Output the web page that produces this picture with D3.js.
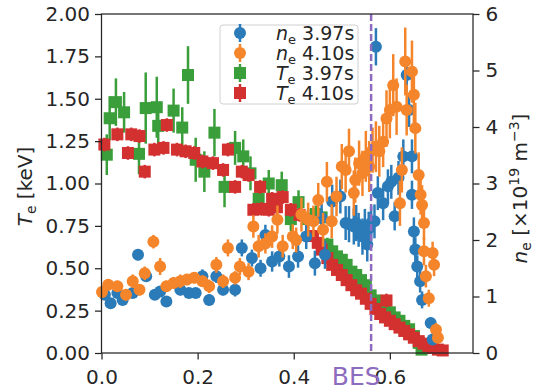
<!DOCTYPE html>
<html>
<head>
<meta charset="utf-8">
<script src="https://cdn.jsdelivr.net/npm/d3@7"></script>
<style>
  body { margin: 0; background: #fff; }
  svg text { font-family: "DejaVu Sans", sans-serif; fill: #262626; }
</style>
</head>
<body>
<div id="chart"></div>
<script>
// Te 3.97s (green squares)
const te397R = [0.011,0.017,0.030,0.047,0.078,0.092,0.115,0.118,0.150,0.168,0.180,0.196,0.214,0.235,0.256,0.278,0.295,0.310,0.327,0.348,0.375,0.394,0.410,0.430,0.446,0.458,0.470,0.480,0.490,0.500,0.510,0.520,0.530,0.540,0.550,0.560,0.570,0.580,0.590,0.600,0.610,0.620,0.630,0.640,0.650,0.660,0.666];
const te397 = [1.17,1.385,1.48,1.42,1.175,1.445,1.45,1.34,1.43,1.33,1.64,1.14,1.07,1.30,0.98,1.21,1.16,1.06,0.91,1.00,0.99,0.79,0.89,0.79,0.82,0.80,0.64,0.60,0.57,0.55,0.52,0.48,0.46,0.43,0.40,0.34,0.31,0.29,0.27,0.24,0.21,0.19,0.16,0.14,0.10,0.06,0.02];
const te397Err = [0.12,0.13,0.14,0.12,0.12,0.21,0.18,0.14,0.13,0.12,0.17,0.13,0.12,0.14,0.12,0.10,0.10,0.10,0.09,0.08,0.08,0.07,0.07,0.06,0.05,0.05,0.04,0.03,0.03,0.03,0.03,0.03,0.03,0.03,0.03,0.03,0.02,0.02,0.02,0.02,0.02,0.02,0.02,0.02,0.02,0.02,0.02];

// Te 4.10s (red squares)
const te410R = [0.006,0.033,0.055,0.062,0.079,0.090,0.110,0.129,0.136,0.157,0.175,0.193,0.210,0.232,0.253,0.263,0.278,0.292,0.306,0.316,0.333,0.330,0.348,0.355,0.365,0.377,0.394,0.412,0.440,0.450,0.458,0.470,0.480,0.490,0.500,0.510,0.520,0.530,0.540,0.550,0.560,0.570,0.580,0.590,0.593,0.600,0.610,0.620,0.630,0.640,0.650,0.660,0.670,0.680,0.690,0.700,0.710];
const te410 = [1.23,1.29,1.18,1.29,1.28,1.07,1.20,1.21,1.345,1.20,1.19,1.18,1.13,1.12,1.08,1.20,0.98,1.07,1.05,0.845,0.85,0.98,0.845,0.91,0.86,0.92,0.845,0.815,0.69,0.65,0.61,0.56,0.52,0.49,0.46,0.43,0.40,0.37,0.35,0.32,0.29,0.26,0.23,0.21,0.31,0.19,0.17,0.15,0.13,0.11,0.09,0.07,0.055,0.04,0.03,0.02,0.015];
const te410Err = [0.04,0.04,0.04,0.04,0.04,0.04,0.04,0.04,0.04,0.04,0.04,0.04,0.04,0.04,0.04,0.04,0.04,0.04,0.04,0.04,0.04,0.04,0.04,0.04,0.04,0.04,0.04,0.04,0.03,0.03,0.03,0.03,0.03,0.03,0.03,0.03,0.03,0.03,0.03,0.03,0.03,0.03,0.03,0.03,0.04,0.02,0.02,0.02,0.02,0.02,0.02,0.02,0.02,0.02,0.02,0.02,0.02];

// ne 3.97s (blue circles)
const ne397R = [0.007,0.019,0.033,0.044,0.065,0.076,0.093,0.111,0.122,0.135,0.164,0.182,0.196,0.210,0.224,0.239,0.253,0.278,0.292,0.313,0.331,0.341,0.355,0.370,0.390,0.409,0.426,0.444,0.458,0.465,0.480,0.497,0.508,0.515,0.525,0.530,0.535,0.543,0.548,0.553,0.556,0.561,0.568,0.571,0.575,0.586,0.596,0.603,0.610,0.618,0.628,0.635,0.640,0.646,0.646,0.650,0.653,0.657,0.663,0.667,0.685,0.689];
const ne397 = [1.03,0.88,1.06,0.94,1.06,1.74,1.36,1.03,1.09,0.91,1.12,1.06,1.06,1.36,0.94,1.36,1.12,1.12,1.86,1.68,1.50,2.09,1.62,1.71,1.53,1.71,2.06,1.59,2.39,1.74,2.68,2.77,2.30,2.28,2.24,2.30,2.18,2.06,2.25,1.92,2.20,2.30,2.33,5.42,2.83,2.65,2.95,3.03,2.42,3.10,3.48,4.92,4.30,3.48,2.80,2.15,1.83,1.53,1.27,0.94,0.53,0.24];
const ne397Err = [0.08,0.08,0.08,0.08,0.08,0.10,0.10,0.08,0.08,0.08,0.10,0.08,0.08,0.12,0.10,0.12,0.10,0.12,0.15,0.15,0.15,0.18,0.18,0.18,0.20,0.20,0.22,0.22,0.25,0.25,0.30,0.30,0.30,0.32,0.32,0.32,0.30,0.32,0.30,0.30,0.30,0.30,0.30,0.33,0.30,0.30,0.30,0.30,0.25,0.30,0.30,0.30,0.30,0.30,0.25,0.25,0.22,0.20,0.20,0.15,0.10,0.10];

// ne 4.10s (orange circles)
const ne410R = [0.001,0.014,0.033,0.051,0.065,0.079,0.090,0.108,0.122,0.135,0.150,0.164,0.178,0.193,0.210,0.224,0.239,0.253,0.263,0.278,0.288,0.306,0.316,0.327,0.341,0.355,0.366,0.377,0.398,0.405,0.416,0.430,0.441,0.451,0.461,0.469,0.479,0.489,0.500,0.508,0.515,0.525,0.528,0.536,0.543,0.550,0.557,0.564,0.571,0.578,0.586,0.593,0.600,0.607,0.614,0.621,0.625,0.632,0.635,0.646,0.650,0.653,0.660,0.664,0.667,0.671,0.671,0.675,0.681,0.689,0.692,0.696,0.700];
const ne410 = [1.08,1.21,1.18,1.03,1.27,1.12,1.41,1.97,1.53,1.18,1.24,1.27,1.30,1.33,1.27,1.18,1.56,1.27,1.86,1.33,1.53,1.44,2.24,1.89,1.94,2.06,2.36,1.89,2.06,2.00,2.45,2.36,2.33,2.71,2.18,3.03,2.33,2.77,3.30,3.24,3.57,2.83,3.06,3.36,3.18,3.48,3.30,3.59,3.65,3.57,3.74,4.15,4.30,4.74,4.36,2.65,3.24,5.16,4.30,4.98,4.57,3.98,3.15,2.80,2.62,2.30,1.80,1.36,0.97,1.77,1.56,0.41,0.27];
const ne410Err = [0.10,0.10,0.10,0.10,0.12,0.10,0.12,0.12,0.15,0.10,0.10,0.12,0.10,0.10,0.10,0.12,0.14,0.12,0.15,0.12,0.15,0.15,0.20,0.20,0.18,0.20,0.25,0.20,0.22,0.22,0.30,0.30,0.28,0.30,0.30,0.35,0.30,0.35,0.40,0.40,0.40,0.40,0.40,0.40,0.40,0.45,0.45,0.40,0.45,0.45,0.45,0.50,0.50,0.55,0.50,0.40,0.40,0.60,0.45,0.55,0.50,0.45,0.40,0.35,0.35,0.30,0.25,0.20,0.15,0.20,0.20,0.12,0.10];

const xTicks = [0, 0.2, 0.4, 0.6];
const teTicks = [0, 0.25, 0.5, 0.75, 1.0, 1.25, 1.5, 1.75, 2.0];
const neTicks = [0, 1, 2, 3, 4, 5, 6];
const besPos = 0.561;

const W = 534, H = 391;
const m = { left: 101.5, right: 473, top: 14, bottom: 353 };
const col = { blue: "#2b7bb9", orange: "#f5852b", green: "#3a9e3a", red: "#d33030", purple: "#8d6cbf" };

const svg = d3.select("#chart").append("svg").attr("width", W).attr("height", H);

const x = d3.scaleLinear().domain([0, 0.773]).range([m.left, m.right]);
const yT = d3.scaleLinear().domain([0, 2]).range([m.bottom, m.top]);
const yN = d3.scaleLinear().domain([0, 6]).range([m.bottom, m.top]);

const MS = 12;

function drawSeries(rs, vs, es, y, color, shape) {
  const pts = rs.map((r, i) => ({ r: r, v: vs[i], e: es[i] }));
  const g = svg.append("g");
  g.selectAll("line").data(pts).enter().append("line")
    .attr("x1", d => x(d.r)).attr("x2", d => x(d.r))
    .attr("y1", d => y(d.v - d.e)).attr("y2", d => y(d.v + d.e))
    .attr("stroke", color).attr("stroke-width", 2.5);
  if (shape === "s") {
    g.selectAll("rect").data(pts).enter().append("rect")
      .attr("x", d => x(d.r) - MS / 2).attr("y", d => y(d.v) - MS / 2)
      .attr("width", MS).attr("height", MS).attr("fill", color);
  } else {
    g.selectAll("circle").data(pts).enter().append("circle")
      .attr("cx", d => x(d.r)).attr("cy", d => y(d.v))
      .attr("r", MS / 2).attr("fill", color);
  }
}

drawSeries(te397R, te397, te397Err, yT, col.green, "s");
drawSeries(te410R, te410, te410Err, yT, col.red, "s");
drawSeries(ne397R, ne397, ne397Err, yN, col.blue, "o");
drawSeries(ne410R, ne410, ne410Err, yN, col.orange, "o");

// BES line
svg.append("line")
  .attr("x1", x(besPos)).attr("x2", x(besPos))
  .attr("y1", m.top).attr("y2", m.bottom)
  .attr("stroke", col.purple).attr("stroke-width", 2.5)
  .attr("stroke-dasharray", "7,3");

// axes
function styleAxis(g) {
  g.select(".domain").remove();
  g.selectAll(".tick line").attr("stroke", "#262626").attr("stroke-width", 1.25);
  g.selectAll(".tick text").attr("font-size", 20).attr("fill", "#262626")
    .attr("font-family", "DejaVu Sans");
}

svg.append("g").attr("transform", `translate(0,${m.bottom})`)
  .call(d3.axisBottom(x).tickValues(xTicks).tickFormat(d3.format(".1f")).tickSize(6.5).tickPadding(10))
  .call(styleAxis);

svg.append("g").attr("transform", `translate(${m.left},0)`)
  .call(d3.axisLeft(yT).tickValues(teTicks).tickFormat(d3.format(".2f")).tickSize(6.5).tickPadding(5))
  .call(styleAxis);

svg.append("g").attr("transform", `translate(${m.right},0)`)
  .call(d3.axisRight(yN).tickValues(neTicks).tickFormat(d3.format("d")).tickSize(6.5).tickPadding(6))
  .call(styleAxis);

svg.append("rect")
  .attr("x", m.left).attr("y", m.top)
  .attr("width", m.right - m.left).attr("height", m.bottom - m.top)
  .attr("fill", "none").attr("stroke", "#262626").attr("stroke-width", 1.25);

// BES label
svg.append("text")
  .attr("x", x(0.53)).attr("y", 385)
  .attr("text-anchor", "middle").attr("font-size", 25)
  .style("fill", col.purple).text("BES");

// left axis label
const lt = svg.append("text")
  .attr("transform", `translate(32,${(m.top + m.bottom) / 2 + 3}) rotate(-90)`)
  .attr("text-anchor", "middle").attr("font-size", 20);
lt.append("tspan").attr("font-style", "italic").text("T");
lt.append("tspan").attr("font-size", 14).attr("dy", 4).text("e");
lt.append("tspan").attr("dy", -4).text(" [keV]");

// right axis label
const rt = svg.append("text")
  .attr("transform", `translate(527,${(m.top + m.bottom) / 2 + 5}) rotate(-90)`)
  .attr("text-anchor", "middle").attr("font-size", 20);
rt.append("tspan").attr("font-style", "italic").text("n");
rt.append("tspan").attr("font-size", 14).attr("dy", 4).text("e");
rt.append("tspan").attr("dy", -4).text(" [×10");
rt.append("tspan").attr("font-size", 14).attr("dy", -8).text("19");
rt.append("tspan").attr("dy", 8).text(" m");
rt.append("tspan").attr("font-size", 14).attr("dy", -8).text("−3");
rt.append("tspan").attr("dy", 8).text("]");

// legend
const legendItems = [
  { sym: "n", t: "3.97s", c: col.blue, shape: "o" },
  { sym: "n", t: "4.10s", c: col.orange, shape: "o" },
  { sym: "T", t: "3.97s", c: col.green, shape: "s" },
  { sym: "T", t: "4.10s", c: col.red, shape: "s" }
];
const lg = svg.append("g");
lg.append("rect").attr("x", 220).attr("y", 25).attr("width", 138).attr("height", 79)
  .attr("rx", 3).attr("fill", "#fff").attr("fill-opacity", 0.85)
  .attr("stroke", "#d0d0d0").attr("stroke-width", 1);
legendItems.forEach((d, i) => {
  const cy = 33 + i * 20;
  lg.append("line").attr("x1", 240).attr("x2", 240).attr("y1", cy - 9).attr("y2", cy + 9)
    .attr("stroke", d.c).attr("stroke-width", 2.5);
  if (d.shape === "o") {
    lg.append("circle").attr("cx", 240).attr("cy", cy).attr("r", MS / 2).attr("fill", d.c);
  } else {
    lg.append("rect").attr("x", 240 - MS / 2).attr("y", cy - MS / 2)
      .attr("width", MS).attr("height", MS).attr("fill", d.c);
  }
  const tx = lg.append("text").attr("x", 276).attr("y", cy + 7).attr("font-size", 19);
  tx.append("tspan").attr("font-style", "italic").text(d.sym);
  tx.append("tspan").attr("font-size", 13).attr("dy", 4).text("e");
  tx.append("tspan").attr("dy", -4).text(" " + d.t);
});
</script>
</body>
</html>
